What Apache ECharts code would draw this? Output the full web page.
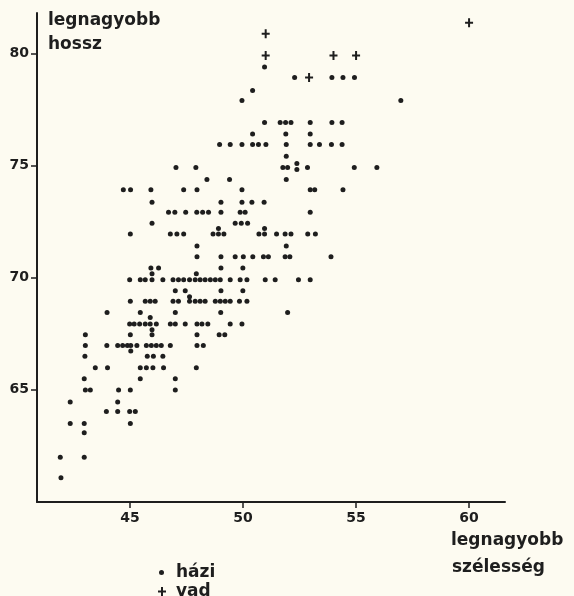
<!DOCTYPE html>
<html>
<head>
<meta charset="utf-8">
<script src="https://cdn.jsdelivr.net/npm/echarts@6/dist/echarts.min.js"></script>
<style>
html,body{margin:0;padding:0;background:#fdfbf1;}
#c{width:574px;height:596px;}
</style>
</head>
<body>
<div id="c"></div>
<script>
// házi (domestic): [legnagyobb szélesség, legnagyobb hossz]
var haziX = [
 50.95,
 52.28, 53.93, 54.42, 54.93,
 50.42,
 49.95, 56.98,
 50.95, 51.64, 51.88, 52.12, 52.97, 53.93, 54.38,
 50.42, 51.89, 52.97,
 48.96, 49.43, 49.95, 50.42, 50.68, 51.01, 51.91, 52.97, 53.38, 53.91, 54.38,
 51.91,
 52.38,
 47.03, 47.91, 51.76, 51.97, 52.85, 54.92, 55.92,
 52.38,
 48.4, 49.4, 51.91,
 44.7, 45.02, 45.92, 47.37, 47.96, 49.95, 52.97, 53.17, 54.42,
 45.97, 49.02, 49.95, 50.39, 50.93,
 46.7, 46.98, 47.46, 47.95, 48.21, 48.47, 49.02, 49.87, 50.09, 52.97,
 45.97, 49.65, 49.92, 50.2,
 48.91, 50.95,
 45.01, 46.78, 47.07, 47.37, 48.67, 48.91, 49.15, 50.7, 50.95, 51.48, 51.86, 52.12, 52.86, 53.2,
 47.96, 51.91,
 47.96, 49.02, 49.65, 50.01, 50.43, 50.9, 51.12, 51.86, 52.07, 53.89,
 45.92, 46.26, 49.02, 49.99,
 45.97, 47.93,
 44.98, 45.45, 45.67, 45.97, 46.45, 46.9, 47.14, 47.37, 47.63, 47.88, 48.1, 48.32, 48.55, 48.77, 48.99, 49.43, 49.87, 50.17, 50.98, 51.42, 52.45, 52.97,
 47.0, 47.44, 49.02, 49.99,
 47.63,
 45.01, 45.67, 45.89, 46.11, 46.9, 47.14, 47.63, 47.88, 48.1, 48.32, 48.77, 48.99, 49.21, 49.43, 49.84, 50.17,
 43.98, 45.45, 47.0, 49.01, 51.97,
 45.89,
 44.98, 45.18, 45.42, 45.67, 45.89, 46.16, 46.78, 47.0, 47.44, 47.96, 48.18, 48.44, 49.43, 49.95,
 45.97,
 43.02, 45.01, 45.97, 47.96, 48.94, 49.19,
 43.02, 43.97, 44.45, 44.67, 44.88, 45.03, 45.3, 45.72, 45.94, 46.16, 46.38, 46.78, 47.96, 48.24,
 45.03,
 43.0, 45.76, 46.03, 46.45,
 43.46, 44.0, 45.45, 45.72, 46.01, 46.48, 47.93,
 42.97, 45.45, 47.0,
 43.02, 43.24, 44.49, 45.01, 47.0,
 42.35, 44.45,
 43.95, 44.45, 44.98, 45.23,
 42.35, 42.97, 45.01,
 42.97,
 41.91, 42.97,
 41.94
];
var haziY = [
 79.39,
 78.93, 78.93, 78.93, 78.93,
 78.35,
 77.9, 77.9,
 76.92, 76.92, 76.92, 76.92, 76.92, 76.92, 76.92,
 76.41, 76.41, 76.41,
 75.94, 75.94, 75.94, 75.94, 75.94, 75.94, 75.94, 75.94, 75.94, 75.94, 75.94,
 75.41,
 75.09,
 74.91, 74.91, 74.91, 74.91, 74.91, 74.91, 74.91,
 74.82,
 74.38, 74.38, 74.38,
 73.92, 73.92, 73.92, 73.92, 73.92, 73.92, 73.92, 73.92, 73.92,
 73.36, 73.36, 73.36, 73.36, 73.36,
 72.92, 72.92, 72.92, 72.92, 72.92, 72.92, 72.92, 72.92, 72.92, 72.92,
 72.43, 72.43, 72.43, 72.43,
 72.19, 72.19,
 71.95, 71.95, 71.95, 71.95, 71.95, 71.95, 71.95, 71.95, 71.95, 71.95, 71.95, 71.95, 71.95, 71.95,
 71.41, 71.41,
 70.93, 70.93, 70.93, 70.93, 70.93, 70.93, 70.93, 70.93, 70.93, 70.93,
 70.43, 70.43, 70.43, 70.43,
 70.18, 70.18,
 69.91, 69.91, 69.91, 69.91, 69.91, 69.91, 69.91, 69.91, 69.91, 69.91, 69.91, 69.91, 69.91, 69.91, 69.91, 69.91, 69.91, 69.91, 69.91, 69.91, 69.91, 69.91,
 69.42, 69.42, 69.42, 69.42,
 69.15,
 68.95, 68.95, 68.95, 68.95, 68.95, 68.95, 68.95, 68.95, 68.95, 68.95, 68.95, 68.95, 68.95, 68.95, 68.95, 68.95,
 68.45, 68.45, 68.45, 68.45, 68.45,
 68.22,
 67.93, 67.93, 67.93, 67.93, 67.93, 67.93, 67.93, 67.93, 67.93, 67.93, 67.93, 67.93, 67.93, 67.93,
 67.68,
 67.46, 67.46, 67.46, 67.46, 67.46, 67.46,
 66.98, 66.98, 66.98, 66.98, 66.98, 66.98, 66.98, 66.98, 66.98, 66.98, 66.98, 66.98, 66.98, 66.98,
 66.73,
 66.5, 66.5, 66.5, 66.5,
 65.99, 65.99, 65.99, 65.99, 65.99, 65.99, 65.99,
 65.5, 65.5, 65.5,
 64.99, 64.99, 64.99, 64.99, 64.99,
 64.46, 64.46,
 64.03, 64.03, 64.03, 64.03,
 63.5, 63.5, 63.5,
 63.09,
 62.0, 62.0,
 61.08
];
// vad (wild)
var vadX = [51.0, 51.0, 54.0, 55.0, 52.92, 60.0];
var vadY = [80.88, 79.91, 79.91, 79.91, 78.92, 81.37];

var xTicks = [45, 50, 55, 60];
var yTicks = [65, 70, 75, 80];

var haziData = haziX.map(function (x, i) { return [x, haziY[i]]; });
var vadData = vadX.map(function (x, i) { return [x, vadY[i]]; });

var ink = '#1e1e1e';
var plusPath = 'path://M3,0H5V3.5H8V5.5H5V9H3V5.5H0V3.5H3Z';
var tickFont = { color: ink, fontSize: 14, fontWeight: 'bold', fontFamily: 'DejaVu Sans' };
var titleFont = 'bold 17px "DejaVu Sans"';

var chart = echarts.init(document.getElementById('c'), null, { renderer: 'canvas' });
chart.setOption({
  backgroundColor: '#fdfbf1',
  animation: false,
  grid: { left: 37, right: 69, top: 13, bottom: 94, containLabel: false },
  xAxis: {
    type: 'value', min: 40.88, max: 61.59,
    axisLine: { show: true, onZero: false, lineStyle: { color: ink, width: 2 } },
    axisTick: { show: true, customValues: xTicks, length: 6, lineStyle: { color: ink, width: 1.5 } },
    axisLabel: Object.assign({ customValues: xTicks, margin: 9 }, tickFont),
    splitLine: { show: false }
  },
  yAxis: {
    type: 'value', min: 60, max: 81.8,
    axisLine: { show: true, onZero: false, lineStyle: { color: ink, width: 2 } },
    axisTick: { show: true, customValues: yTicks, length: 6, lineStyle: { color: ink, width: 1.5 } },
    axisLabel: Object.assign({ customValues: yTicks, margin: 8 }, tickFont),
    splitLine: { show: false }
  },
  legend: [
    {
      data: ['házi'], left: 159, top: 564, padding: 0, itemWidth: 5, itemHeight: 5,
      textStyle: { color: ink, fontSize: 17, fontWeight: 'bold', fontFamily: 'DejaVu Sans', padding: [0, 0, 0, 7] }
    },
    {
      data: ['vad'], left: 158, top: 583, padding: 0, itemWidth: 8, itemHeight: 9,
      textStyle: { color: ink, fontSize: 17, fontWeight: 'bold', fontFamily: 'DejaVu Sans', padding: [0, 0, 0, 5] }
    }
  ],
  graphic: [
    { type: 'text', left: 48, top: 12, style: { text: 'legnagyobb', font: titleFont, fill: ink } },
    { type: 'text', left: 48, top: 36, style: { text: 'hossz', font: titleFont, fill: ink } },
    { type: 'text', left: 451, top: 532, style: { text: 'legnagyobb', font: titleFont, fill: ink } },
    { type: 'text', left: 452, top: 559, style: { text: 'szélesség', font: titleFont, fill: ink } }
  ],
  series: [
    {
      name: 'házi', type: 'scatter', data: haziData,
      symbol: 'circle', symbolSize: 5,
      itemStyle: { color: ink, opacity: 1 }
    },
    {
      name: 'vad', type: 'scatter', data: vadData,
      symbol: plusPath, symbolSize: [8, 9],
      itemStyle: { color: ink, opacity: 1 }
    }
  ]
});
</script>
</body>
</html>
